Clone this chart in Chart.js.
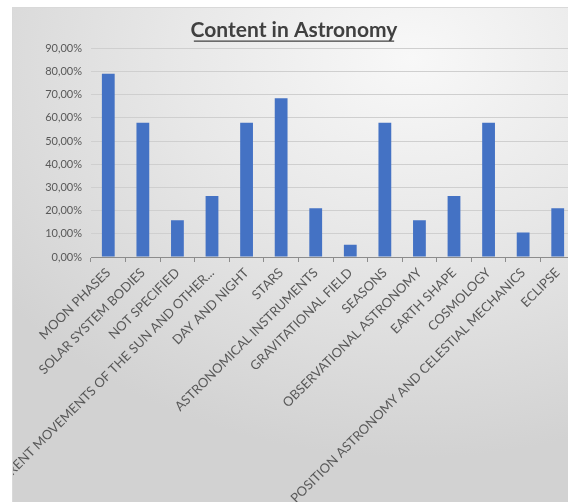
<!DOCTYPE html>
<html>
<head>
<meta charset="utf-8">
<script src="https://cdn.jsdelivr.net/npm/chart.js@4"></script>
<style>
  html, body { margin: 0; padding: 0; background: #fff; overflow: hidden; }
  body { width: 568px; height: 502px; position: relative; }
  #box {
    position: absolute; left: 12px; top: 7px; width: 570px; height: 500px;
    border-left: 1px solid #d9d9d9; border-top: 1px solid #d9d9d9;
    background: radial-gradient(ellipse 90% 80% at 70% 10%, #f8f8f8 0%, #e8e8e8 45%, #d2d2d2 100%);
  }
  #wrap { position: absolute; left: 0; top: 0; width: 562px; height: 495px; }
</style>
</head>
<body>
<div id="box">
  <div id="wrap"><canvas id="astro"></canvas></div>
</div>
<script>
Chart.defaults.font.family = 'Lato, "Open Sans", sans-serif';
Chart.defaults.color = '#595959';

const topics = [
  'MOON PHASES', 'SOLAR SYSTEM BODIES', 'NOT SPECIFIED',
  'APPARENT MOVEMENTS OF THE SUN AND OTHER...', 'DAY AND NIGHT', 'STARS',
  'ASTRONOMICAL INSTRUMENTS', 'GRAVITATIONAL FIELD', 'SEASONS',
  'OBSERVATIONAL ASTRONOMY', 'EARTH SHAPE', 'COSMOLOGY',
  'POSITION ASTRONOMY AND CELESTIAL MECHANICS', 'ECLIPSE'
];
const shares = [78.95, 57.89, 15.79, 26.32, 57.89, 68.42, 21.05, 5.26, 57.89, 15.79, 26.32, 57.89, 10.53, 21.05];
const yMax = 90;
const yStep = 10;

const barColor = '#4472C4';
const gridColor = '#cfcfcf';

// underline under the title, Excel style
const underlineTitle = {
  id: 'underlineTitle',
  afterDraw(chart) {
    const t = chart.titleBlock;
    if (!t) return;
    const ctx = chart.ctx;
    const opts = t.options;
    ctx.save();
    ctx.font = `bold ${opts.font.size}px ${opts.font.family}`;
    const w = ctx.measureText(opts.text).width;
    const cx = (t.left + t.right) / 2;
    const y = t.top + opts.padding.top + opts.font.size * 1.1;
    ctx.strokeStyle = '#404040';
    ctx.lineWidth = 1.4;
    ctx.beginPath();
    ctx.moveTo(cx - w / 2, y);
    ctx.lineTo(cx + w / 2, y);
    ctx.stroke();
    ctx.restore();
  }
};

new Chart(document.getElementById('astro'), {
  type: 'bar',
  data: {
    labels: topics,
    datasets: [{
      data: shares,
      backgroundColor: barColor,
      borderWidth: 0,
      barPercentage: 0.37,
      categoryPercentage: 1
    }]
  },
  options: {
    responsive: true,
    maintainAspectRatio: false,
    animation: false,
    layout: { padding: { left: 0, right: 0, top: 0, bottom: 0 } },
    plugins: {
      legend: { display: false },
      tooltip: { enabled: false },
      title: {
        display: true,
        text: 'Content in Astronomy',
        color: '#404040',
        font: { size: 21, weight: 'bold' },
        padding: { top: 10, bottom: 5 }
      }
    },
    scales: {
      x: {
        grid: {
          offset: true,
          drawOnChartArea: false,
          drawTicks: true,
          tickLength: 5,
          color: '#8c8c8c'
        },
        border: { color: '#8c8c8c', width: 1 },
        ticks: {
          autoSkip: false,
          minRotation: 45,
          maxRotation: 45,
          padding: 3,
          font: { size: 13 }
        },
        afterFit(scale) { scale.height = 246; }
      },
      y: {
        min: 0,
        max: yMax,
        grid: { color: gridColor, drawTicks: false },
        border: { display: false },
        ticks: {
          stepSize: yStep,
          padding: 9,
          font: { size: 11 },
          callback: v => v.toFixed(2).replace('.', ',') + '%'
        },
        afterFit(scale) { scale.width = 78; }
      }
    }
  },
  plugins: [underlineTitle]
});
</script>
</body>
</html>
